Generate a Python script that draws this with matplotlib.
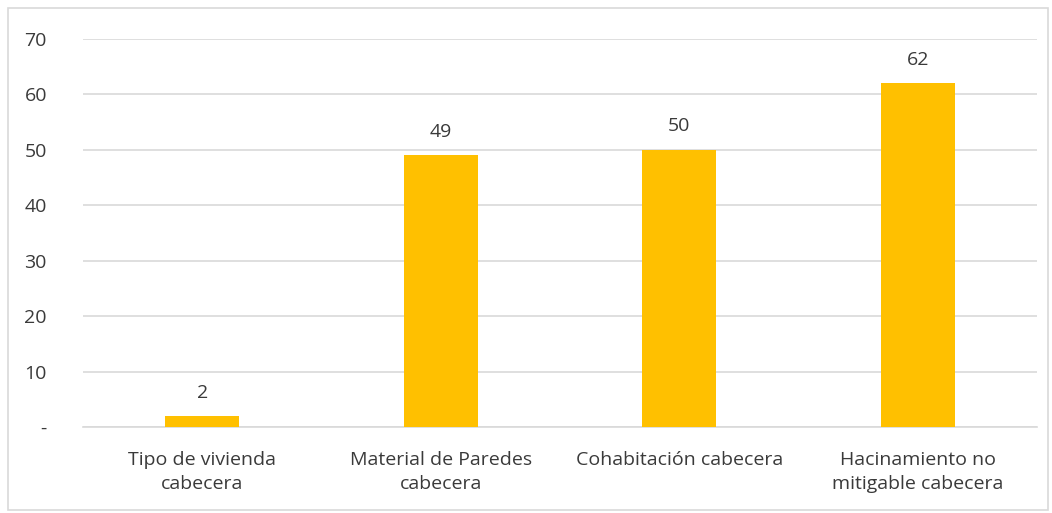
import numpy as np
import matplotlib.pyplot as plt
from matplotlib.patches import Rectangle

# Data
categorias = ["Tipo de vivienda\ncabecera", "Material de Paredes\ncabecera",
              "Cohabitación cabecera", "Hacinamiento no\nmitigable cabecera"]
valores = [2, 49, 50, 62]
y_ticks = [0, 10, 20, 30, 40, 50, 60, 70]
y_labels = ["-", "10", "20", "30", "40", "50", "60", "70"]

plt.rcParams['font.family'] = ['Open Sans', 'DejaVu Sans']
texto = "#3a3a3a"
fs = 14

fig = plt.figure(figsize=(10.52, 5.13), dpi=100)
ax = fig.add_axes([0.0789, 0.1676, 0.9068, 0.7564])

x = np.arange(len(categorias))
ax.bar(x, valores, width=0.31, color="#FFC000", zorder=3)

# Value labels above bars
for xi, v in zip(x, valores):
    ax.text(xi, v + 2.6, str(v), ha="center", va="bottom", fontsize=fs, color=texto)

ax.set_xlim(-0.5, len(categorias) - 0.5)
ax.set_ylim(0, 70)
ax.set_yticks(y_ticks)
ax.set_yticklabels(y_labels, fontsize=fs, color=texto)
ax.set_xticks(x)
ax.set_xticklabels(categorias, fontsize=fs, color=texto, linespacing=1.45)
ax.tick_params(axis="y", length=0, pad=26)
ax.tick_params(axis="x", length=0, pad=17)

ax.grid(axis="y", color="#d9d9d9", linewidth=1.2, zorder=0)
for s in ["top", "right", "left"]:
    ax.spines[s].set_visible(False)
ax.spines["bottom"].set_color("#d9d9d9")
ax.spines["bottom"].set_linewidth(1.2)

# Frame around the figure
fig.patches.append(Rectangle((0.008, 0.006), 0.988, 0.978, transform=fig.transFigure,
                             fill=False, edgecolor="#d9d9d9", linewidth=1.2))

fig.savefig("out.png", dpi=100)
